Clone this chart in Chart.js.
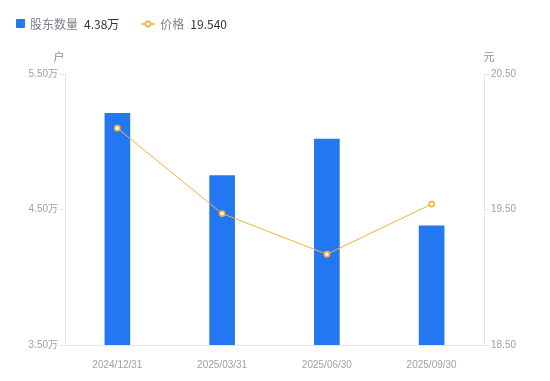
<!DOCTYPE html>
<html>
<head>
<meta charset="utf-8">
<script src="https://cdn.jsdelivr.net/npm/chart.js@4.4.1/dist/chart.umd.min.js"></script>
<style>
  body { margin: 0; background: #fff; font-family: "Noto Sans CJK SC", "Noto Sans", sans-serif; }
  #wrap { position: relative; width: 550px; height: 381px; }
  #legend { position: absolute; left: 16px; top: 15px; font-size: 12px; display: flex; align-items: center; }
  .item { display: flex; align-items: center; margin-right: 22px; }
  .name { color: #7b7f8a; margin-right: 6px; }
  .val { color: #333; }
  .sq { width: 9px; height: 9px; background: #2477f3; border-radius: 1px; margin-right: 5px; }
</style>
</head>
<body>
<div id="wrap">
  <div id="legend">
    <div class="item"><span class="sq"></span><span class="name">股东数量</span><span class="val">4.38万</span></div>
    <div class="item">
      <svg width="14" height="10" style="margin-right:5px"><line x1="0" y1="5" x2="14" y2="5" stroke="#f5b03a" stroke-width="1.5"/><circle cx="7" cy="5" r="2.6" fill="#fff" stroke="#f5b03a" stroke-width="1.6"/></svg>
      <span class="name">价格</span><span class="val">19.540</span>
    </div>
  </div>
  <canvas id="chart" width="550" height="381"></canvas>
</div>
<script>
  const labels = ["2024/12/31", "2025/03/31", "2025/06/30", "2025/09/30"];
  const holders = [5.21, 4.75, 5.02, 4.38];   // 万户
  const prices = [20.10, 19.47, 19.17, 19.54]; // 元

  const gridColor = "#e6e6e6";
  const tickColor = "#9ea1ab";
  const tickFont = { size: 10, family: "'Liberation Sans', 'Noto Sans CJK SC', sans-serif" };

  // axis unit titles above the y axes
  const unitTitles = {
    id: "unitTitles",
    afterDraw(chart) {
      const c = chart.ctx;
      c.save();
      c.font = "11px 'Noto Sans CJK SC', sans-serif";
      c.fillStyle = "#8a8d96";
      c.textAlign = "center";
      c.textBaseline = "middle";
      c.fillText("户", chart.scales.y.right - 6, 57);
      c.fillText("元", chart.scales.y1.left + 5, 57);
      c.restore();
    }
  };

  const ctx = document.getElementById("chart").getContext("2d");
  new Chart(ctx, {
    data: {
      labels: labels,
      datasets: [
        {
          type: "line",
          label: "价格",
          data: prices,
          yAxisID: "y1",
          borderColor: "#f5b03a",
          borderWidth: 1,
          pointRadius: 2.6,
          pointBorderWidth: 1.6,
          pointBackgroundColor: "#fff",
          pointBorderColor: "#f5b03a",
          tension: 0,
          order: 0
        },
        {
          type: "bar",
          label: "股东数量",
          data: holders,
          yAxisID: "y",
          backgroundColor: "#2477f3",
          barThickness: 25,
          order: 1
        }
      ]
    },
    options: {
      responsive: false,
      animation: false,
      layout: { padding: { top: 74, bottom: 0, left: 0, right: 0 } },
      plugins: {
        legend: { display: false },
        tooltip: { enabled: false }
      },
      scales: {
        x: {
          grid: { display: false },
          border: { color: gridColor },
          ticks: { color: tickColor, font: tickFont, padding: 6, maxRotation: 0 },
          afterFit(s) { s.height = 36; }
        },
        y: {
          position: "left",
          min: 3.5,
          max: 5.5,
          ticks: {
            stepSize: 1,
            color: tickColor,
            font: tickFont,
            padding: 2,
            callback: v => v.toFixed(2) + "万"
          },
          grid: { drawOnChartArea: false, color: gridColor, tickLength: 5 },
          border: { color: gridColor },
          afterFit(s) { s.width = 65; }
        },
        y1: {
          position: "right",
          min: 18.5,
          max: 20.5,
          ticks: {
            stepSize: 1,
            color: tickColor,
            font: tickFont,
            padding: 2,
            callback: v => v.toFixed(2)
          },
          grid: { drawOnChartArea: false, color: gridColor, tickLength: 5 },
          border: { color: gridColor },
          afterFit(s) { s.width = 66; }
        }
      }
    },
    plugins: [unitTitles]
  });
</script>
</body>
</html>
